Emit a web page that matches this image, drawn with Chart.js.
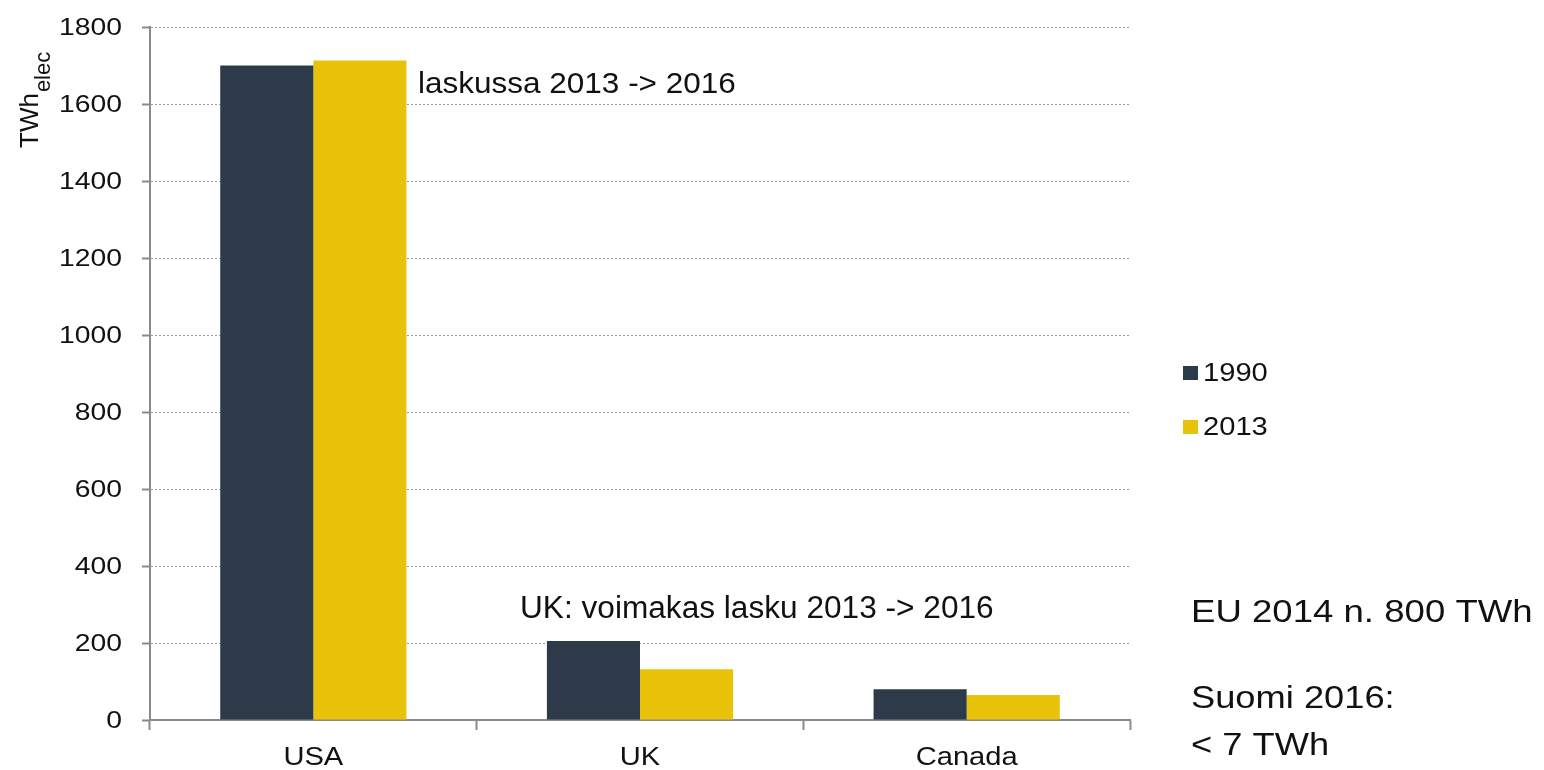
<!DOCTYPE html>
<html>
<head>
<meta charset="utf-8">
<script src="https://cdn.jsdelivr.net/npm/chart.js@4/dist/chart.umd.min.js"></script>
<style>
  html, body { margin: 0; padding: 0; background: #fff; }
  canvas { display: block; }
</style>
</head>
<body>
<canvas id="chart" width="1544" height="770"></canvas>
<script>
// data
var countries = ['USA', 'UK', 'Canada'];
var years = ['1990', '2013'];
var values1990 = [1700, 205, 80];
var values2013 = [1713, 132, 65];
var yTicks = [0, 200, 400, 600, 800, 1000, 1200, 1400, 1600, 1800];

var colors = ['#2c3a4a', '#e9c309'];
var FONT = '"Liberation Sans", Arial, sans-serif';

// draws text a bit wider, the picture is stretched sideways
function stretchText(ctx, text, x, y, size, align, sx, base) {
  ctx.save();
  ctx.font = size + 'px ' + FONT;
  ctx.textAlign = align || 'left';
  ctx.textBaseline = base || 'alphabetic';
  ctx.fillStyle = '#111';
  ctx.translate(x, y);
  ctx.scale(sx || 1, 1);
  ctx.fillText(text, 0, 0);
  ctx.restore();
}

var textPlugin = {
  id: 'texts',
  afterDraw: function (chart) {
    var ctx = chart.ctx;
    var xs = chart.scales.x;
    var ys = chart.scales.y;

    // y tick labels
    ys.ticks.forEach(function (t) {
      stretchText(ctx, String(t.value), 122, ys.getPixelForValue(t.value) + 1, 24, 'right', 1.18, 'middle');
    });

    // category labels
    chart.data.labels.forEach(function (lab, i) {
      stretchText(ctx, lab, xs.getPixelForValue(i), 758, 26, 'center', 1.12, 'middle');
    });

    // y axis title with subscript
    ctx.save();
    ctx.fillStyle = '#111';
    ctx.translate(38, 148);
    ctx.rotate(-Math.PI / 2);
    ctx.font = '26px ' + FONT;
    ctx.fillText('TWh', 0, 0);
    var w = ctx.measureText('TWh').width;
    ctx.font = '22px ' + FONT;
    ctx.fillText('elec', w + 1, 12);
    ctx.restore();

    // legend
    chart.data.datasets.forEach(function (ds, i) {
      var cy = 373 + i * 54;
      ctx.fillStyle = ds.backgroundColor;
      ctx.fillRect(1183, cy - 7, 15, 14);
      stretchText(ctx, ds.label, 1203, cy + 1, 26, 'left', 1.12, 'middle');
    });

    // notes
    stretchText(ctx, 'laskussa 2013 -> 2016', 418, 93, 30, 'left', 1.05);
    stretchText(ctx, 'UK: voimakas lasku 2013 -> 2016', 520, 618, 31, 'left', 1.02);
    stretchText(ctx, 'EU 2014 n. 800 TWh', 1191, 622, 31, 'left', 1.18);
    stretchText(ctx, 'Suomi 2016:', 1191, 708, 31, 'left', 1.17);
    stretchText(ctx, '< 7 TWh', 1191, 755, 31, 'left', 1.17);
  }
};

var ctx = document.getElementById('chart').getContext('2d');
var myChart = new Chart(ctx, {
  type: 'bar',
  data: {
    labels: countries,
    datasets: [{
      label: years[0],
      data: values1990,
      backgroundColor: colors[0],
      barPercentage: 1,
      categoryPercentage: 0.57
    }, {
      label: years[1],
      data: values2013,
      backgroundColor: colors[1],
      barPercentage: 1,
      categoryPercentage: 0.57
    }]
  },
  options: {
    responsive: false,
    animation: false,
    events: [],
    layout: { padding: { left: 0, top: 27, right: 414, bottom: 0 } },
    plugins: {
      legend: { display: false },
      tooltip: { enabled: false }
    },
    scales: {
      x: {
        ticks: { display: false },
        grid: {
          offset: true,
          drawOnChartArea: false,
          drawTicks: true,
          tickLength: 10,
          tickColor: '#8a8a8a',
          tickWidth: 2
        },
        border: { color: '#8a8a8a', width: 2 },
        afterFit: function (s) { s.height = 50; }
      },
      y: {
        min: 0,
        max: 1800,
        afterBuildTicks: function (s) {
          s.ticks = yTicks.map(function (v) { return { value: v }; });
        },
        ticks: { display: false },
        grid: {
          color: '#9a9a9a',
          lineWidth: 1,
          drawTicks: true,
          tickLength: 8,
          tickColor: '#8a8a8a',
          tickWidth: 2
        },
        border: { color: '#8a8a8a', width: 2, dash: [2, 2] },
        afterFit: function (s) { s.width = 150; }
      }
    }
  },
  plugins: [textPlugin]
});
</script>
</body>
</html>
